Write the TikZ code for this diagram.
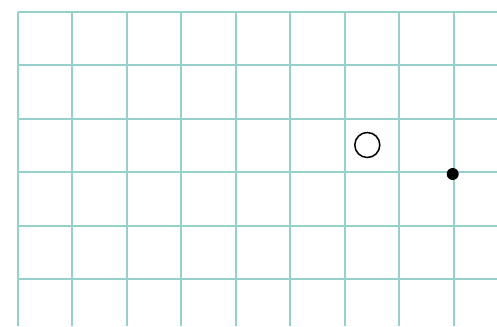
\documentclass[tikz,border=0pt]{standalone}
\usepackage{tikz}
\definecolor{gridteal}{RGB}{150,208,203}

\begin{document}
\begin{tikzpicture}[x=1pt, y=1pt,
    gridline/.style={draw=gridteal, line width=1.6pt},
    hollow/.style={circle, draw=black, line width=1.5pt, minimum size=25pt, inner sep=0pt},
    marker/.style={circle, fill=black, minimum size=12pt, inner sep=0pt}
  ]
  \useasboundingbox (0,0) rectangle (497,326);
  % grid
  \foreach \gx in {18,72,127,181,236,290,345,399,454}
    \draw[gridline] (\gx, 314) -- (\gx, 0);
  \foreach \gy in {314,261,207,154,100,47}
    \draw[gridline] (18, \gy) -- (497, \gy);
  % points
  \node[hollow] (ring) at (367.3, 181) {};
  \node[marker] (dot) at (452.7, 152) {};
\end{tikzpicture}
\end{document}
